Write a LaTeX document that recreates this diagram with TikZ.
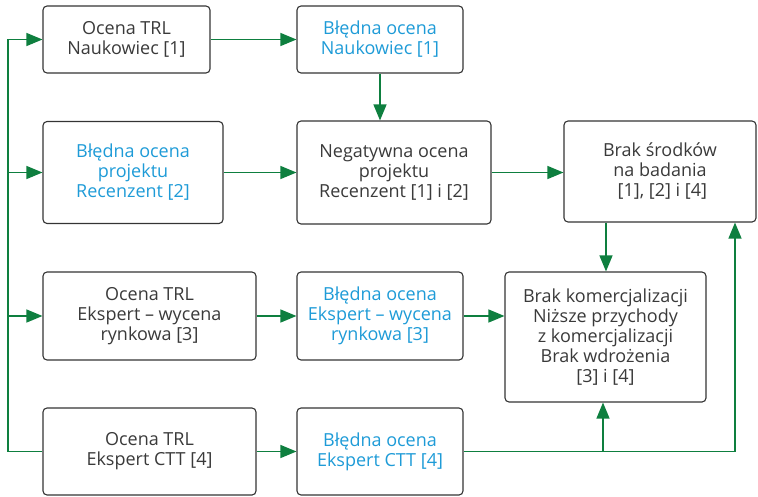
\documentclass[tikz,border=0pt]{standalone}
\usepackage{fontspec}
\setmainfont{Open Sans}
\usetikzlibrary{arrows.meta}
\definecolor{flowgreen}{HTML}{0E7F3F}
\definecolor{errblue}{HTML}{1E9BD7}
\definecolor{boxtext}{HTML}{3A3A3A}
\tikzset{
  box/.style={draw=boxtext!90!black, line width=1.1pt, rounded corners=4pt,
    align=center, inner sep=0pt, text=boxtext,
    font=\fontsize{18}{20}\selectfont},
  errbox/.style={box, text=errblue},
  link/.style={draw=flowgreen, line width=1.3pt},
  arr/.style={link, -{Triangle[length=16pt,width=13pt]}},
}
\begin{document}
\begin{tikzpicture}[x=1pt,y=-1pt]
\useasboundingbox (0,0) rectangle (758,496);

% row 1
\node[box, minimum width=167pt, minimum height=67pt] (b1) at (126.5,39.5) {Ocena TRL\\Naukowiec [1]};
\node[errbox, minimum width=166pt, minimum height=67pt] (b2) at (380,39.5) {Błędna ocena\\Naukowiec [1]};
% row 2
\node[errbox, minimum width=180pt, minimum height=102pt] (b3) at (133,172.5) {Błędna ocena\\projektu\\Recenzent [2]};
\node[box, minimum width=194pt, minimum height=103pt] (b4) at (394,172.5) {Negatywna ocena\\projektu\\Recenzent [1] i [2]};
\node[box, minimum width=192pt, minimum height=101pt] (b5) at (660,171.5) {Brak środków\\na badania\\{} [1], [2] i [4]};
% row 3
\node[box, minimum width=213pt, minimum height=88pt] (b6) at (149.5,316) {Ocena TRL\\Ekspert – wycena\\rynkowa [3]};
\node[errbox, minimum width=166pt, minimum height=88pt] (b7) at (380,316) {Błędna ocena\\Ekspert – wycena\\rynkowa [3]};
\node[box, minimum width=201pt, minimum height=130pt] (b8) at (605.5,337) {Brak komercjalizacji\\Niższe przychody\\z komercjalizacji\\Brak wdrożenia\\{}[3] i [4]};
% row 4
\node[box, minimum width=213pt, minimum height=87pt] (b9) at (149.5,451.5) {Ocena TRL\\Ekspert CTT [4]};
\node[errbox, minimum width=166pt, minimum height=87pt] (b10) at (380,451.5) {Błędna ocena\\Ekspert CTT [4]};

% routing columns
\coordinate (spine) at (8,0);
\coordinate (down) at (606,0);
\coordinate (tap) at (603,0);
\coordinate (rail) at (735,0);

% left spine feeding the assessments
\draw[arr] (b9.west) -| (spine |- b1.west) -- (b1.west);
\draw[arr] (spine |- b3.west) -- (b3.west);
\draw[arr] (spine |- b6.west) -- (b6.west);

% horizontal flows
\draw[arr] (b1.east) -- (b2.west);
\draw[arr] (b2.south) -- (b2.south |- b4.north);
\draw[arr] (b3.east) -- (b4.west);
\draw[arr] (b4.east) -- (b4.east -| b5.west);
\draw[arr] (b6.east) -- (b7.west);
\draw[arr] (b7.east) -- (b7.east -| b8.west);
\draw[arr] (b9.east) -- (b10.west);

% right side
\draw[arr] (down |- b5.south) -- (down |- b8.north);
\draw[arr] (b10.east) -| (rail |- b5.south);
\draw[arr] (tap |- b10.east) -- (tap |- b8.south);
\end{tikzpicture}
\end{document}
